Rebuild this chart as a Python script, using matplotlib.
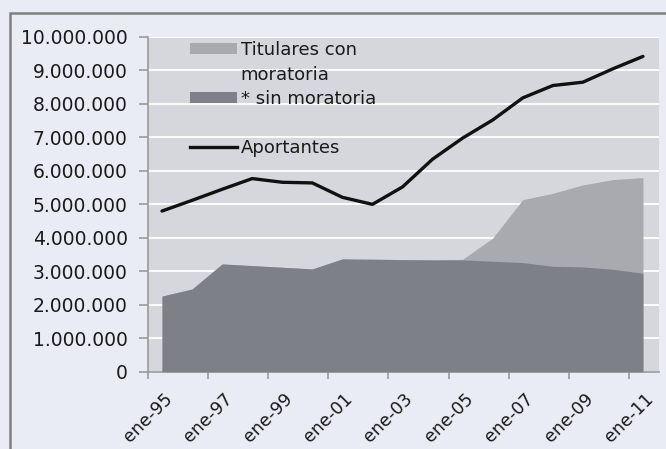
import matplotlib
matplotlib.use("Agg")
import matplotlib.pyplot as plt
from matplotlib.patches import Patch, Rectangle
from matplotlib.lines import Line2D
from matplotlib.ticker import FuncFormatter, MultipleLocator
from matplotlib.transforms import ScaledTranslation
import datetime as dt

# ---- data (values in millions of persons) ----
years = list(range(1995, 2012))
aportantes = [4.80, 5.12, 5.45, 5.77, 5.66, 5.64, 5.21, 5.00, 5.52, 6.35,
              6.98, 7.52, 8.18, 8.55, 8.65, 9.05, 9.42]
sin_moratoria = [2.26, 2.47, 3.22, 3.17, 3.12, 3.07, 3.37, 3.36, 3.35, 3.34,
                 3.34, 3.30, 3.26, 3.15, 3.13, 3.06, 2.94]
titulares_con_moratoria = [2.26, 2.47, 3.22, 3.17, 3.12, 3.07, 3.37, 3.36, 3.35, 3.34,
                           3.36, 3.99, 5.14, 5.33, 5.58, 5.74, 5.80]
tick_years = [1995, 1997, 1999, 2001, 2003, 2005, 2007, 2009, 2011]
label_titulares_1 = "Titulares con"
label_titulares_2 = "moratoria"
label_sin = "* sin moratoria"
label_aport = "Aportantes"

scale = 1_000_000
dates = [dt.datetime(y, 6, 20) for y in years]
aport_v = [v * scale for v in aportantes]
sin_v = [v * scale for v in sin_moratoria]
tit_v = [v * scale for v in titulares_con_moratoria]

FIG_BG = "#e9ecf4"
PLOT_BG = "#d6d7dc"
LIGHT = "#a9aab0"
DARK = "#7e8088"
AXIS_GRAY = "#9a9a9a"
TEXT = "#1a1a1a"

plt.rcParams['font.family'] = ['DejaVu Sans']

fig = plt.figure(figsize=(6.66, 4.49), dpi=100, facecolor=FIG_BG)
W, H = 666, 449
ax = fig.add_axes([148 / W, 1 - 371.7 / H, (659 - 148) / W, (371.7 - 37) / H])
ax.set_facecolor(PLOT_BG)

# chart-area border (extends past right/bottom edge)
fig.patches.append(Rectangle((10 / W, -0.05), 1.0, 1 - 13 / H + 0.05,
                             transform=fig.transFigure, fill=False,
                             edgecolor="#7f7f7f", linewidth=1.8, zorder=0))

ax.fill_between(dates, 0, tit_v, color=LIGHT, linewidth=0, zorder=2)
ax.fill_between(dates, 0, sin_v, color=DARK, linewidth=0, zorder=3)
ax.plot(dates, aport_v, color="#111111", linewidth=2.4, zorder=4,
        solid_capstyle='round', solid_joinstyle='round')

ax.set_ylim(0, 10 * scale)
ax.set_xlim(dt.datetime(1995, 1, 1), dt.datetime(2012, 1, 1))
ax.yaxis.set_major_locator(MultipleLocator(scale))
ax.yaxis.set_major_formatter(FuncFormatter(lambda v, p: f"{int(round(v)):,}".replace(",", ".")))
ax.grid(axis='y', color="white", linewidth=1.3, zorder=1)
ax.set_axisbelow(True)

ax.set_xticks([dt.datetime(y, 1, 1) for y in tick_years])
ax.set_xticklabels([f"ene-{y % 100:02d}" for y in tick_years], rotation=45,
                   ha='center', fontsize=12.5, color=TEXT)
shift = ScaledTranslation(-9 / 72, 0, fig.dpi_scale_trans)
for lbl in ax.get_xticklabels():
    lbl.set_transform(lbl.get_transform() + shift)

for s in ['top', 'right']:
    ax.spines[s].set_visible(False)
for s in ['left', 'bottom']:
    ax.spines[s].set_color(AXIS_GRAY)
    ax.spines[s].set_linewidth(1.2)
ax.tick_params(axis='y', length=6.5, width=1.2, color=AXIS_GRAY, pad=8,
               labelsize=13.5, labelcolor=TEXT)
ax.tick_params(axis='x', length=5, width=1.2, color=AXIS_GRAY, pad=8,
               labelcolor=TEXT)

handles = [Patch(facecolor=LIGHT, edgecolor='none'),
           Patch(facecolor='none', edgecolor='none'),
           Patch(facecolor=DARK, edgecolor='none'),
           Patch(facecolor='none', edgecolor='none'),
           Line2D([], [], color="#111111", linewidth=2.4)]
labels = [label_titulares_1, label_titulares_2, label_sin, " ", label_aport]
leg = ax.legend(handles, labels, loc='upper left',
                bbox_to_anchor=((190 - 148) / (659 - 148), 1 - (41 - 37) / (371.7 - 37)),
                frameon=False, fontsize=13, handlelength=2.6, handleheight=0.6,
                handletextpad=0.2, labelspacing=0.36, borderpad=0, borderaxespad=0)
for t in leg.get_texts():
    t.set_color(TEXT)

fig.savefig("out.png", dpi=100, facecolor=FIG_BG)
